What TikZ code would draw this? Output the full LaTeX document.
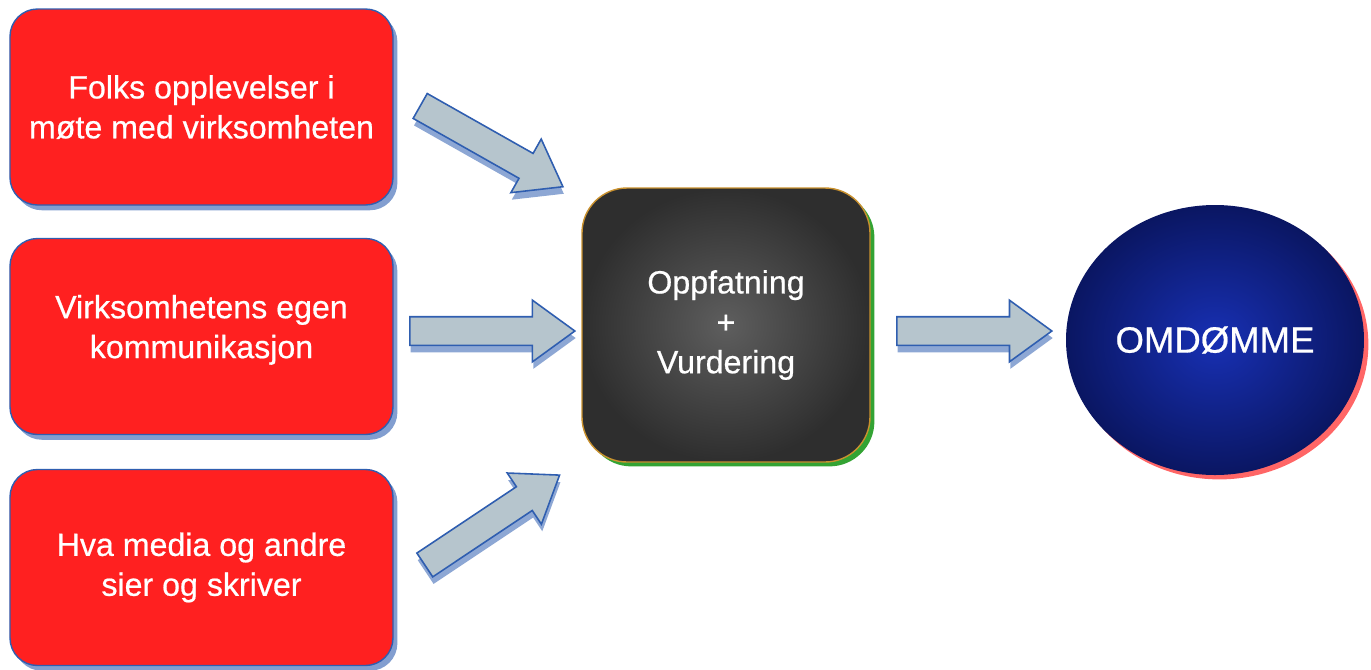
\documentclass[tikz,border=0pt]{standalone}
\usepackage{fontspec}
\setmainfont[FakeBold=0.6]{Liberation Sans}
\usetikzlibrary{shapes.arrows,shapes.geometric,shadows}

\definecolor{boxred}{HTML}{FF2020}
\definecolor{edgeblue}{HTML}{2F5EB0}
\definecolor{arrowfill}{HTML}{B6C5CD}
\definecolor{darkin}{HTML}{5E5E5E}
\definecolor{darkout}{HTML}{2E2E2E}
\definecolor{goldedge}{HTML}{C9912E}
\definecolor{ballin}{HTML}{1830B4}
\definecolor{ballout}{HTML}{0A1662}

\tikzset{
  cause/.style={draw=edgeblue, line width=0.8pt, fill=boxred, rounded corners=0.55cm,
    minimum width=7.66cm, minimum height=3.92cm, text=white, align=center,
    font=\fontsize{18.3}{22.7}\selectfont,
    drop shadow={fill=edgeblue, opacity=0.6, shadow xshift=2.5pt, shadow yshift=-3pt}},
  fatarrow/.style={single arrow, draw=edgeblue, line width=0.9pt, fill=arrowfill,
    inner xsep=0pt, inner ysep=0.27cm, single arrow head extend=0.33cm,
    single arrow tip angle=72,
    drop shadow={fill=edgeblue, opacity=0.55, shadow xshift=0.5pt, shadow yshift=-4pt}},
}

\begin{document}
\begin{tikzpicture}
\useasboundingbox (0,0) rectangle (27.42,-13.38);

% inputs
\node[cause] (folk) at (4.03,-2.14) {Folks opplevelser i\\møte med virksomheten};
\node[cause, text depth=0.4cm] (egen) at (4.03,-6.73) {Virksomhetens egen\\kommunikasjon};
\node[cause] (media) at (4.03,-11.35) {Hva media og andre\\sier og skriver};

% perception
\node[draw=goldedge, line width=0.8pt, rounded corners=0.9cm, inner color=darkin, outer color=darkout,
  minimum width=5.76cm, minimum height=5.48cm, text=white, align=center,
  font=\fontsize{18.3}{22.7}\selectfont,
  drop shadow={fill=green!55!black, opacity=0.8, shadow xshift=2.5pt, shadow yshift=-2.5pt}]
  (vurd) at (14.52,-6.5) {Oppfatning\\+\\Vurdering};

% result
\node[ellipse, inner color=ballin, outer color=ballout, minimum width=5.88cm, minimum height=5.4cm,
  text=white, font=\fontsize{20.8}{25}\selectfont,
  drop shadow={fill=red!75!white, opacity=0.8, shadow xshift=2.5pt, shadow yshift=-2.5pt}]
  (omd) at (24.3,-6.8) {OMDØMME};

% arrows
\node[fatarrow, minimum height=3.28cm, rotate=-29.5] (a1) at (9.66,-2.83) {};
\node[fatarrow, minimum height=3.3cm] (a2) at (9.65,-6.62) {};
\node[fatarrow, minimum height=3.24cm, rotate=33.7] (a3) at (9.68,-10.51) {};
\node[fatarrow, minimum height=3.1cm] (a4) at (19.29,-6.62) {};
\end{tikzpicture}
\end{document}
